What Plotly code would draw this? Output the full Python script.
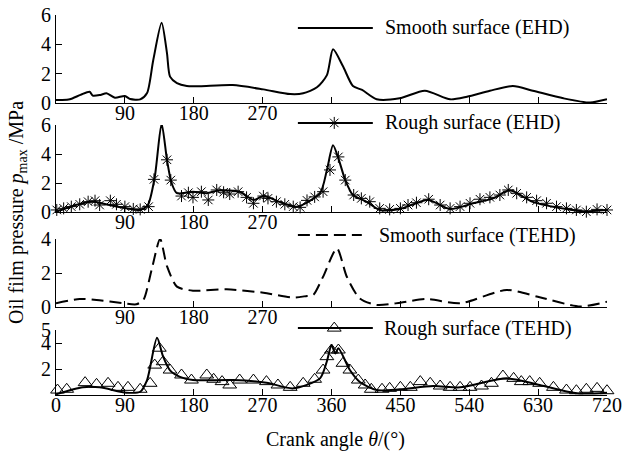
import plotly.graph_objects as go

FONT = "Liberation Serif"

# ---------------- data (crank angle in degrees, pressure in MPa) ----------------
smooth_ehd_x = [0, 8, 18, 32, 44, 48, 58, 66, 77, 90, 97, 110, 119, 127, 138, 145, 149, 158, 171, 188,
                231, 271, 306, 323, 341, 354, 362, 375, 388, 400, 419, 449, 482, 515, 537, 567, 597,
                623, 663, 698, 720]
smooth_ehd_y = [0.2, 0.2, 0.25, 0.55, 0.77, 0.5, 0.55, 0.66, 0.36, 0.48, 0.27, 0.25, 0.68, 2.9, 5.47,
                3.4, 1.8, 1.36, 1.16, 1.15, 1.22, 0.93, 0.61, 0.66, 1.07, 1.9, 3.66, 2.5, 1.16, 0.89,
                0.25, 0.32, 0.84, 0.25, 0.43, 0.84, 1.16, 0.84, 0.32, 0.03, 0.25]

rough_ehd_x = [0, 14, 35, 49, 70, 92, 110, 120, 129, 138, 145, 151, 158, 179, 197, 214, 240, 258,
               271, 297, 315, 345, 354, 362, 369, 378, 388, 406, 423, 449, 486, 515, 545, 571, 593,
               623, 667, 689, 720]
rough_ehd_y = [0.02, 0.28, 0.6, 0.7, 0.48, 0.26, 0.14, 0.48, 2.4, 6.1, 3.6, 2.0, 1.3, 1.4, 1.3, 1.5,
               1.4, 0.83, 1.1, 0.6, 0.37, 1.3, 2.9, 4.6, 3.7, 2.2, 1.17, 0.7, 0.14, 0.2, 0.83, 0.2,
               0.6, 0.94, 1.5, 0.7, 0.2, 0.05, 0.14]
rough_ehd_mk_x = [1, 10, 20, 31, 42, 51, 57, 71, 79, 90, 101, 110, 121, 128, 138, 145, 150, 164, 173,
                  179, 190, 199, 210, 219, 227, 238, 249, 258, 271, 277, 288, 299, 310, 319, 328, 338,
                  349, 358, 369, 378, 389, 399, 410, 423, 436, 450, 460, 471, 487, 502, 515, 528, 541,
                  554, 567, 580, 591, 602, 615, 628, 641, 654, 667, 680, 693, 707, 720]
rough_ehd_mk_y = [0.14, 0.25, 0.37, 0.53, 0.71, 0.78, 0.48, 0.78, 0.53, 0.37, 0.21, 0.18, 0.37, 2.25,
                  6.1, 3.6, 2.2, 1.1, 1.33, 1.01, 1.4, 0.83, 1.52, 1.36, 1.24, 1.4, 1.01, 0.6, 1.1,
                  0.94, 0.71, 0.53, 0.37, 0.32, 0.8, 1.04, 1.4, 2.9, 3.8, 2.2, 1.17, 0.94, 0.71, 0.25,
                  0.18, 0.25, 0.48, 0.64, 0.88, 0.48, 0.25, 0.37, 0.6, 0.88, 1.01, 1.17, 1.52, 1.29,
                  1.01, 0.78, 0.6, 0.37, 0.25, 0.14, 0.02, 0.18, 0.14]

smooth_tehd_x = [0, 31, 53, 88, 105, 114, 125, 136, 145, 158, 179, 223, 271, 310, 328, 336, 349, 367,
                 380, 397, 419, 450, 484, 528, 589, 632, 685, 720]
smooth_tehd_y = [0.22, 0.47, 0.41, 0.22, 0.16, 0.4, 2.2, 4.0, 2.4, 1.2, 0.96, 1.04, 0.84, 0.55, 0.65,
                 0.7, 1.78, 3.45, 1.78, 0.5, 0.12, 0.25, 0.47, 0.22, 1.0, 0.57, 0.03, 0.31]

rough_tehd_x = [0, 35, 57, 92, 110, 119, 132, 140, 149, 162, 179, 231, 275, 310, 345, 354, 360, 365,
                369, 384, 397, 419, 449, 493, 528, 589, 632, 681, 720]
rough_tehd_y = [0.05, 0.59, 0.59, 0.18, 0.25, 1.15, 4.4, 2.95, 1.9, 1.4, 1.15, 1.15, 0.95, 0.51, 1.28,
                2.6, 3.85, 3.2, 3.6, 1.92, 1.0, 0.38, 0.44, 0.69, 0.59, 1.28, 0.77, 0.13, 0.18]
rough_tehd_mk_x = [2, 14, 38, 53, 68, 81, 94, 110, 123, 129, 135, 140, 149, 164, 177, 197, 206, 217,
                   227, 240, 258, 275, 290, 306, 323, 338, 349, 354, 360, 369, 375, 384, 395, 404, 412,
                   426, 436, 450, 463, 476, 489, 502, 515, 528, 541, 556, 569, 584, 598, 608, 619, 632,
                   650, 667, 680, 693, 707, 720]
rough_tehd_mk_y = [0.38, 0.44, 0.95, 0.82, 0.9, 0.59, 0.59, 0.44, 0.9, 2.3, 3.6, 2.56, 1.92, 1.54,
                   1.15, 1.54, 1.21, 1.03, 0.77, 1.15, 1.15, 1.03, 0.77, 0.59, 0.9, 1.21, 1.92, 2.95,
                   3.46, 3.46, 2.44, 1.92, 1.15, 0.77, 0.44, 0.44, 0.51, 0.59, 0.59, 1.03, 0.9, 0.69,
                   0.59, 0.59, 0.59, 0.69, 0.9, 1.46, 1.28, 1.03, 1.03, 0.9, 0.59, 0.38, 0.33, 0.44,
                   0.51, 0.33]

x_ticks = [0, 90, 180, 270, 360, 450, 540, 630, 720]
x_labels_full = ["0", "90", "180", "270", "360", "450", "540", "630", "720"]
x_labels_short = ["", "90", "180", "270", "", "", "", "", ""]

series_names = ["Smooth surface (EHD)", "Rough surface (EHD)",
                "Smooth surface (TEHD)", "Rough surface (TEHD)"]

# ---------------- layout constants ----------------
domains = [[0.7684, 1.0], [0.4816, 0.7105], [0.2316, 0.4105], [0.0, 0.171]]
y_ranges = [[0, 6], [0, 6], [0, 4], [0, 5]]
y_ticks = [[0, 2, 4, 6], [0, 2, 4, 6], [0, 2, 4], [2, 4, 5]]
# legend keys, in paper fractions of the plot area
leg_y = [0.966, 0.716, 0.421, 0.176]
leg_x0, leg_x1, leg_xm = 0.439, 0.575, 0.505
leg_x1_dash = 0.555
leg_xt = [0.593, 0.593, 0.583, 0.591]

fig = go.Figure()

def ax(i, s):
    return s if i == 1 else f"{s}{i}"

lines = [(smooth_ehd_x, smooth_ehd_y, "solid"), (rough_ehd_x, rough_ehd_y, "solid"),
         (smooth_tehd_x, smooth_tehd_y, "12px,6px"), (rough_tehd_x, rough_tehd_y, "solid")]
markers = [None, (rough_ehd_mk_x, rough_ehd_mk_y, "asterisk-open", 10),
           None, (rough_tehd_mk_x, rough_tehd_mk_y, "triangle-up-open", 12)]

for i in range(1, 5):
    lx, ly, dash = lines[i - 1]
    fig.add_trace(go.Scatter(x=lx, y=ly, mode="lines",
                             line=dict(color="black", width=2, dash=dash, shape="spline", smoothing=0.7),
                             xaxis=ax(i, "x"), yaxis=ax(i, "y"), showlegend=False,
                             name=series_names[i - 1], cliponaxis=False))
    mk = markers[i - 1]
    if mk is not None:
        fig.add_trace(go.Scatter(x=mk[0], y=mk[1], mode="markers",
                                 marker=dict(symbol=mk[2], size=mk[3], color="black",
                                             line=dict(color="black", width=1)),
                                 xaxis=ax(i, "x"), yaxis=ax(i, "y"), showlegend=False,
                                 cliponaxis=False))
    # legend key on a hidden overlay axis spanning the plot area
    x1 = leg_x1_dash if i == 3 else leg_x1
    fig.add_trace(go.Scatter(x=[leg_x0, x1], y=[leg_y[i - 1]] * 2, mode="lines",
                             line=dict(color="black", width=2, dash=dash),
                             xaxis="x5", yaxis="y5", showlegend=False, hoverinfo="skip"))
    if mk is not None:
        fig.add_trace(go.Scatter(x=[leg_xm], y=[leg_y[i - 1]], mode="markers",
                                 marker=dict(symbol=mk[2], size=mk[3], color="black",
                                             line=dict(color="black", width=1)),
                                 xaxis="x5", yaxis="y5", showlegend=False, hoverinfo="skip"))
    fig.add_annotation(x=leg_xt[i - 1], y=leg_y[i - 1], xref="paper", yref="paper",
                       text=series_names[i - 1], showarrow=False, xanchor="left", yanchor="middle",
                       font=dict(family=FONT, size=20, color="black"))

axis_common = dict(showline=True, linecolor="black", linewidth=1, ticks="inside", ticklen=6,
                   tickwidth=1, tickcolor="black", showgrid=False, zeroline=False, automargin=False,
                   tickfont=dict(family=FONT, size=20, color="black"))

layout = dict(width=622, height=457, margin=dict(l=56, r=15, t=15, b=62),
              paper_bgcolor="white", plot_bgcolor="rgba(0,0,0,0)",
              font=dict(family=FONT, size=20, color="black"))
for i in range(1, 5):
    layout["xaxis" if i == 1 else f"xaxis{i}"] = dict(
        axis_common, range=[0, 720], tickvals=x_ticks,
        ticktext=x_labels_full if i == 4 else x_labels_short,
        anchor=ax(i, "y"), domain=[0, 1], ticklabelstandoff=-8)
    layout["yaxis" if i == 1 else f"yaxis{i}"] = dict(
        axis_common, range=y_ranges[i - 1], tickvals=y_ticks[i - 1],
        anchor=ax(i, "x"), domain=domains[i - 1])
layout["xaxis5"] = dict(domain=[0, 1], range=[0, 1], visible=False, anchor="y5", fixedrange=True)
layout["yaxis5"] = dict(domain=[0, 1], range=[0, 1], visible=False, anchor="x5", fixedrange=True)
fig.update_layout(**layout)

fig.add_annotation(x=-0.069, y=0.4816, xref="paper", yref="paper", textangle=-90,
                   text="Oil film pressure <i>p</i><sub>max</sub> /MPa", showarrow=False,
                   xanchor="center", yanchor="middle", font=dict(family=FONT, size=20, color="black"))
fig.add_annotation(x=0.507, y=-0.118, xref="paper", yref="paper",
                   text="Crank angle <i>θ</i>/(°)", showarrow=False,
                   xanchor="center", yanchor="middle", font=dict(family=FONT, size=20, color="black"))

fig.write_html("out.html")
